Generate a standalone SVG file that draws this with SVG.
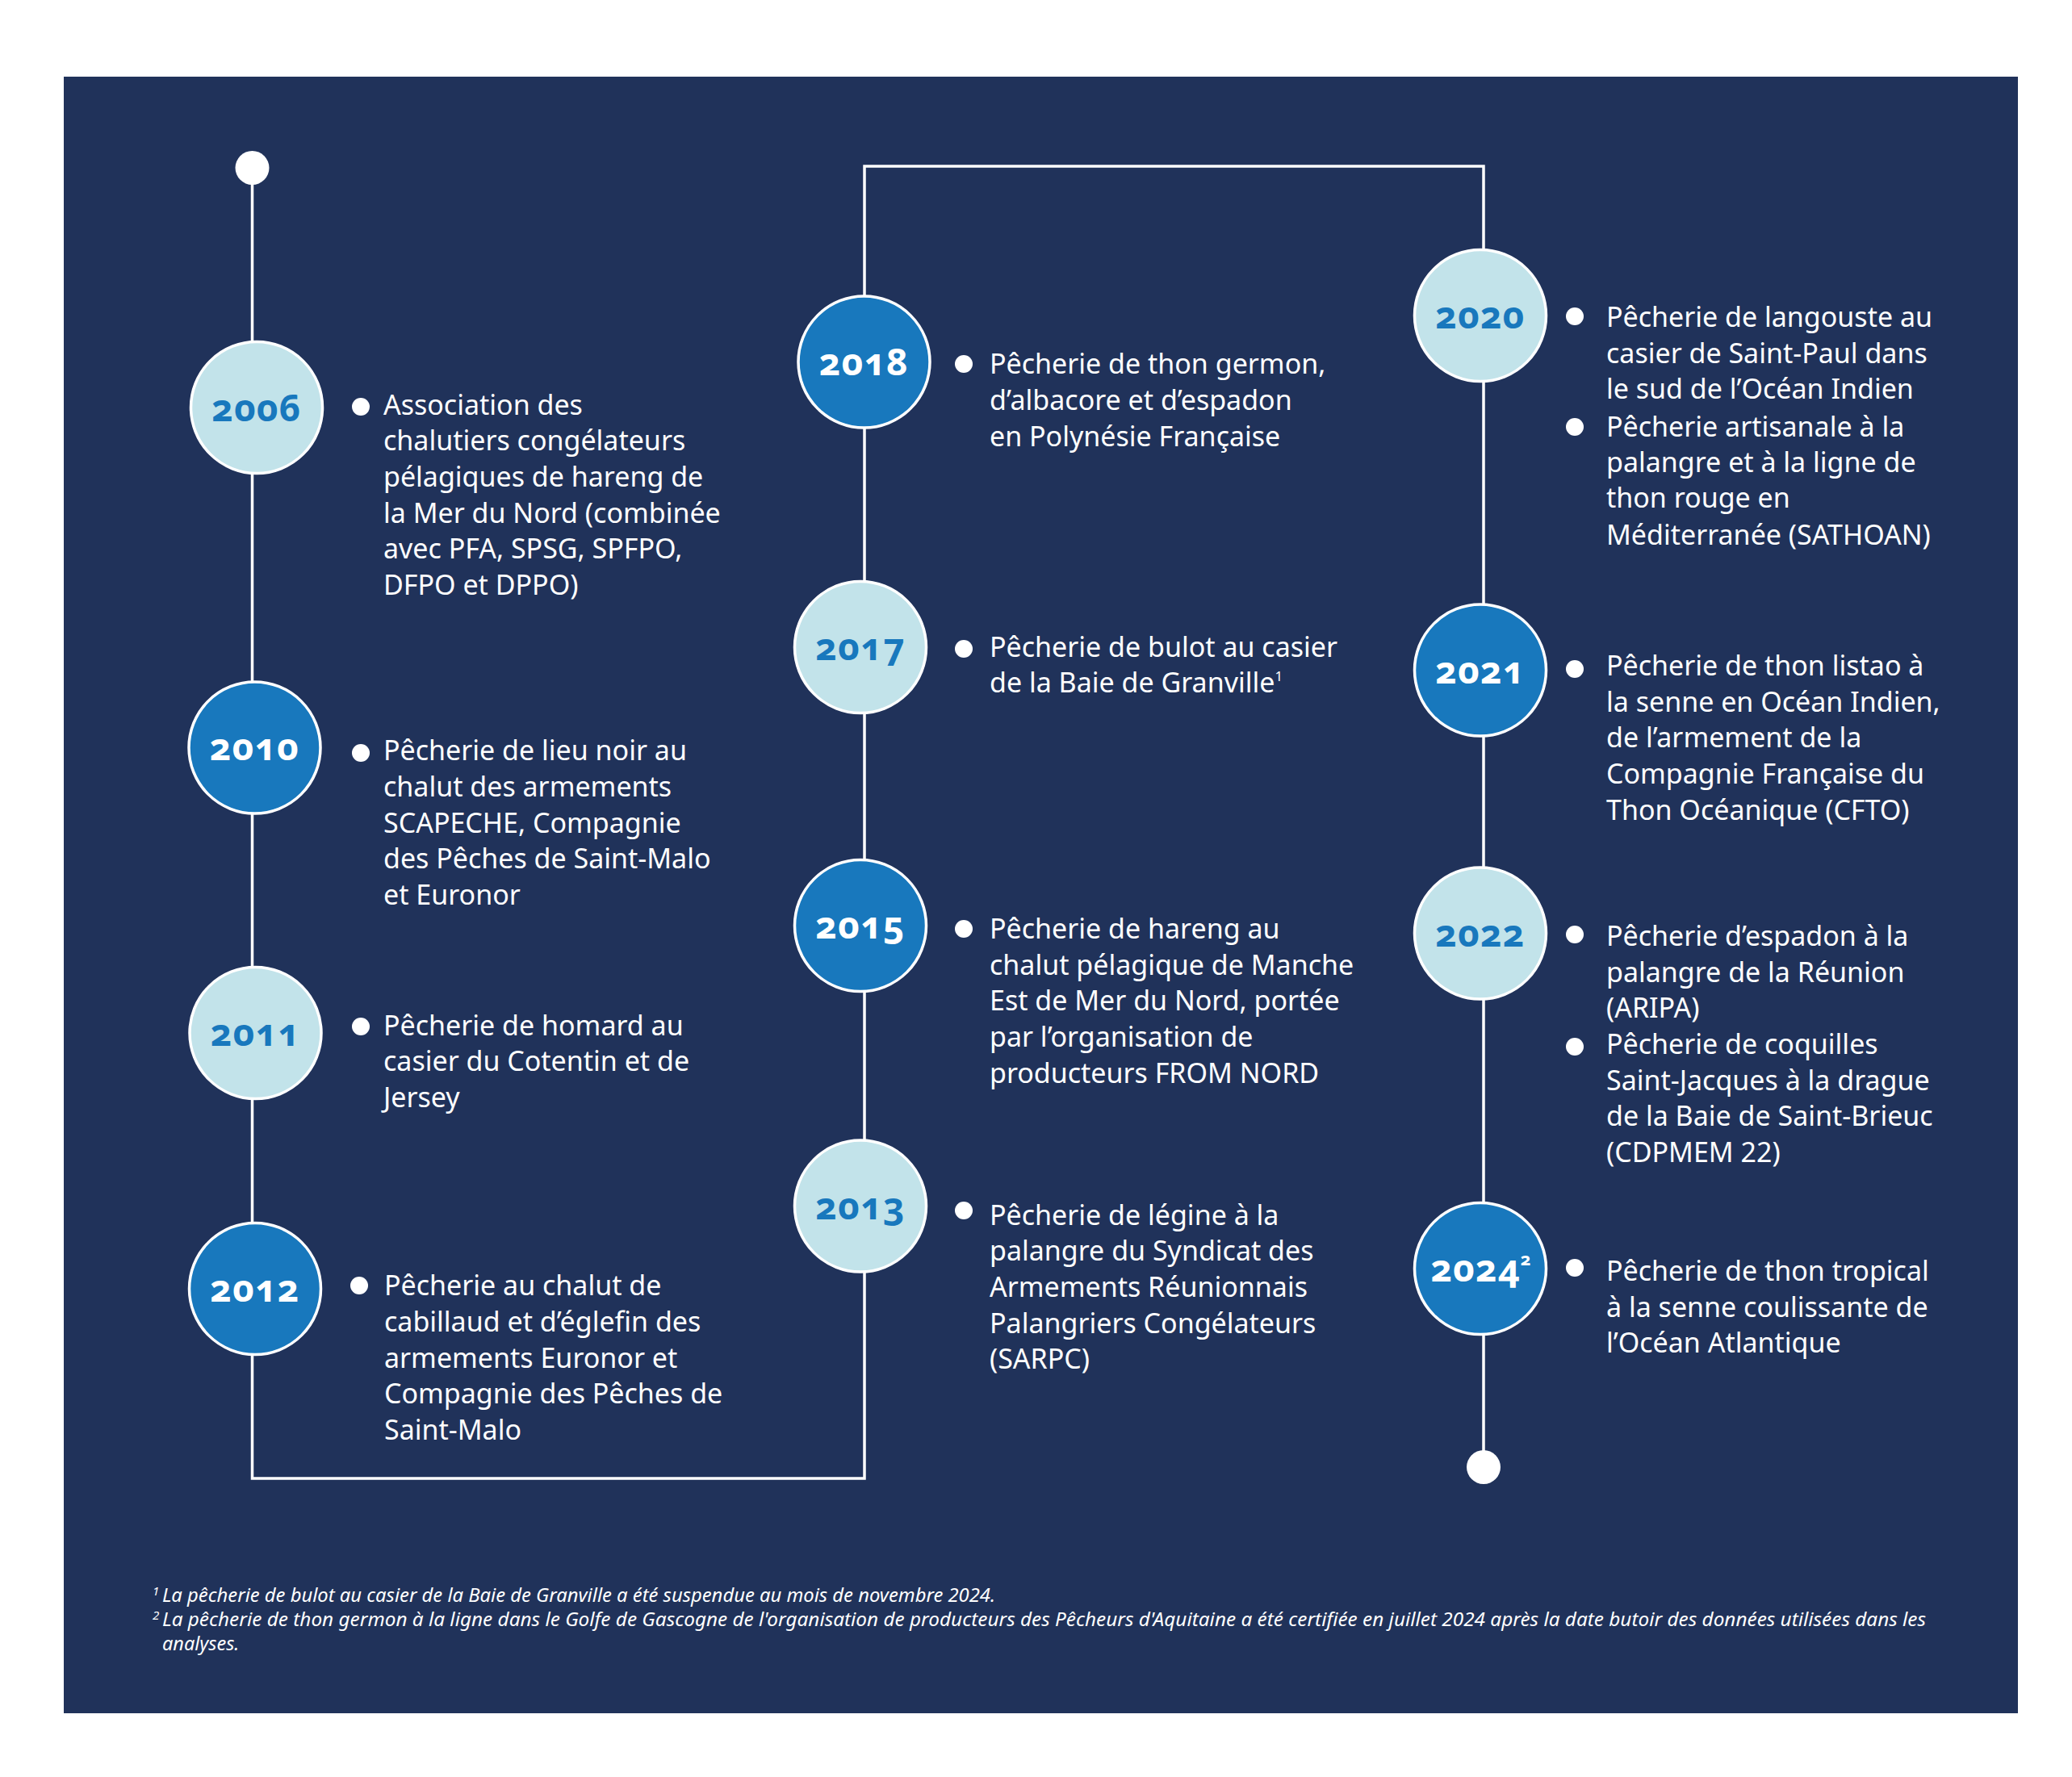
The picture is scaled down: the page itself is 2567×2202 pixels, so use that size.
<svg xmlns="http://www.w3.org/2000/svg" width="2567" height="2202" viewBox="0 0 2567 2202">
<style>
.bg{fill:#20325a}
.dk{fill:#1878bd;stroke:#ffffff;stroke-width:3.5}
.lt{fill:#c2e3ea;stroke:#ffffff;stroke-width:3.5}
.yr{font-family:"Noto Sans","Open Sans",sans-serif;font-weight:700;font-size:46px;text-anchor:middle;font-variant-numeric:oldstyle-nums;letter-spacing:1px}
.yd{fill:#ffffff}
.yl{fill:#1878bd}
.tx{font-family:"Noto Sans","Open Sans",sans-serif;font-size:34px;fill:#ffffff}
.bu{fill:#ffffff}
.ln{fill:none;stroke:#ffffff;stroke-width:3.5}
.fn{font-family:"Noto Sans","Open Sans",sans-serif;font-style:italic;font-size:23.5px;fill:#ffffff}
.sup{font-size:15px}
</style>
<rect class="bg" x="79" y="95" width="2421" height="2028"/>
<g id="connectors">
<path class="ln" d="M312.5,208 V1832 H1071 V206 H1838 V1818"/>
</g>
<g id="start"><circle cx="312.5" cy="208" r="21" fill="#ffffff"/></g>
<g id="end"><circle cx="1838" cy="1818" r="21" fill="#ffffff"/></g>

<g id="y2006">
<circle class="lt" cx="318" cy="505" r="81.5"/>
<text class="yr yl" x="318" y="522">2006</text>
<circle class="bu" cx="447" cy="504" r="11"/>
<text class="tx" x="475"><tspan x="475" y="514">Association des</tspan><tspan x="475" y="558">chalutiers congélateurs</tspan><tspan x="475" y="603">pélagiques de hareng de</tspan><tspan x="475" y="648">la Mer du Nord (combinée</tspan><tspan x="475" y="692">avec PFA, SPSG, SPFPO,</tspan><tspan x="475" y="737">DFPO et DPPO)</tspan></text>
</g>

<g id="y2010">
<circle class="dk" cx="315.5" cy="926.5" r="81.5"/>
<text class="yr yd" x="315.5" y="942">2010</text>
<circle class="bu" cx="447" cy="933" r="11"/>
<text class="tx"><tspan x="475" y="942">Pêcherie de lieu noir au</tspan><tspan x="475" y="987">chalut des armements</tspan><tspan x="475" y="1032">SCAPECHE, Compagnie</tspan><tspan x="475" y="1076">des Pêches de Saint-Malo</tspan><tspan x="475" y="1121">et Euronor</tspan></text>
</g>

<g id="y2011">
<circle class="lt" cx="316.5" cy="1280" r="81.5"/>
<text class="yr yl" x="316.5" y="1296">2011</text>
<circle class="bu" cx="447" cy="1272" r="11"/>
<text class="tx"><tspan x="475" y="1283">Pêcherie de homard au</tspan><tspan x="475" y="1327">casier du Cotentin et de</tspan><tspan x="475" y="1372">Jersey</tspan></text>
</g>

<g id="y2012">
<circle class="dk" cx="316" cy="1597" r="81.5"/>
<text class="yr yd" x="316" y="1613">2012</text>
<circle class="bu" cx="445" cy="1593" r="11"/>
<text class="tx"><tspan x="476" y="1605">Pêcherie au chalut de</tspan><tspan x="476" y="1650">cabillaud et d’églefin des</tspan><tspan x="476" y="1695">armements Euronor et</tspan><tspan x="476" y="1739">Compagnie des Pêches de</tspan><tspan x="476" y="1784">Saint-Malo</tspan></text>
</g>

<g id="y2018">
<circle class="dk" cx="1070.5" cy="448.5" r="81.5"/>
<text class="yr yd" x="1070.5" y="465">2018</text>
<circle class="bu" cx="1194" cy="451" r="11"/>
<text class="tx"><tspan x="1226" y="463">Pêcherie de thon germon,</tspan><tspan x="1226" y="508">d’albacore et d’espadon</tspan><tspan x="1226" y="553">en Polynésie Française</tspan></text>
</g>

<g id="y2017">
<circle class="lt" cx="1066" cy="802" r="81.5"/>
<text class="yr yl" x="1066" y="818">2017</text>
<circle class="bu" cx="1194" cy="804" r="11"/>
<text class="tx"><tspan x="1226" y="814">Pêcherie de bulot au casier</tspan><tspan x="1226" y="858">de la Baie de Granville<tspan font-size="17" dy="-14">1</tspan></tspan></text>
</g>

<g id="y2015">
<circle class="dk" cx="1066" cy="1147" r="81.5"/>
<text class="yr yd" x="1066" y="1163">2015</text>
<circle class="bu" cx="1194" cy="1151" r="11"/>
<text class="tx"><tspan x="1226" y="1163">Pêcherie de hareng au</tspan><tspan x="1226" y="1208">chalut pélagique de Manche</tspan><tspan x="1226" y="1252">Est de Mer du Nord, portée</tspan><tspan x="1226" y="1297">par l’organisation de</tspan><tspan x="1226" y="1342">producteurs FROM NORD</tspan></text>
</g>

<g id="y2013">
<circle class="lt" cx="1066" cy="1494.5" r="81.5"/>
<text class="yr yl" x="1066" y="1511">2013</text>
<circle class="bu" cx="1194" cy="1500" r="11"/>
<text class="tx"><tspan x="1226" y="1518">Pêcherie de légine à la</tspan><tspan x="1226" y="1562">palangre du Syndicat des</tspan><tspan x="1226" y="1607">Armements Réunionnais</tspan><tspan x="1226" y="1652">Palangriers Congélateurs</tspan><tspan x="1226" y="1696">(SARPC)</tspan></text>
</g>

<g id="y2020">
<circle class="lt" cx="1834" cy="391" r="81.5"/>
<text class="yr yl" x="1834" y="407">2020</text>
<circle class="bu" cx="1951" cy="392" r="11"/>
<text class="tx"><tspan x="1990" y="405">Pêcherie de langouste au</tspan><tspan x="1990" y="450">casier de Saint-Paul dans</tspan><tspan x="1990" y="494">le sud de l’Océan Indien</tspan></text>
<circle class="bu" cx="1951" cy="529" r="11"/>
<text class="tx"><tspan x="1990" y="541">Pêcherie artisanale à la</tspan><tspan x="1990" y="585">palangre et à la ligne de</tspan><tspan x="1990" y="629">thon rouge en</tspan><tspan x="1990" y="675">Méditerranée (SATHOAN)</tspan></text>
</g>

<g id="y2021">
<circle class="dk" cx="1834" cy="830.5" r="81.5"/>
<text class="yr yd" x="1834" y="847">2021</text>
<circle class="bu" cx="1951" cy="829" r="11"/>
<text class="tx"><tspan x="1990" y="837">Pêcherie de thon listao à</tspan><tspan x="1990" y="882">la senne en Océan Indien,</tspan><tspan x="1990" y="926">de l’armement de la</tspan><tspan x="1990" y="971">Compagnie Française du</tspan><tspan x="1990" y="1016">Thon Océanique (CFTO)</tspan></text>
</g>

<g id="y2022">
<circle class="lt" cx="1834" cy="1156.5" r="81.5"/>
<text class="yr yl" x="1834" y="1173">2022</text>
<circle class="bu" cx="1951" cy="1158" r="11"/>
<text class="tx"><tspan x="1990" y="1172">Pêcherie d’espadon à la</tspan><tspan x="1990" y="1217">palangre de la Réunion</tspan><tspan x="1990" y="1261">(ARIPA)</tspan></text>
<circle class="bu" cx="1951" cy="1297" r="11"/>
<text class="tx"><tspan x="1990" y="1306">Pêcherie de coquilles</tspan><tspan x="1990" y="1351">Saint-Jacques à la drague</tspan><tspan x="1990" y="1395">de la Baie de Saint-Brieuc</tspan><tspan x="1990" y="1440">(CDPMEM 22)</tspan></text>
</g>

<g id="y2024">
<circle class="dk" cx="1834" cy="1572" r="81.5"/>
<text class="yr yd" x="1835" y="1588">2024<tspan font-size="22" dy="-20">2</tspan></text>
<circle class="bu" cx="1951" cy="1571" r="11"/>
<text class="tx"><tspan x="1990" y="1587">Pêcherie de thon tropical</tspan><tspan x="1990" y="1632">à la senne coulissante de</tspan><tspan x="1990" y="1676">l’Océan Atlantique</tspan></text>
</g>

<g id="footnotes">
<text class="fn" x="189" y="1985"><tspan class="sup" dy="-8">1</tspan></text>
<text class="fn" x="201" y="1985" textLength="1032" lengthAdjust="spacingAndGlyphs">La pêcherie de bulot au casier de la Baie de Granville a été suspendue au mois de novembre 2024.</text>
<text class="fn" x="189" y="2015"><tspan class="sup" dy="-8">2</tspan></text>
<text class="fn" x="201" y="2015" textLength="2185" lengthAdjust="spacingAndGlyphs">La pêcherie de thon germon à la ligne dans le Golfe de Gascogne de l'organisation de producteurs des Pêcheurs d'Aquitaine a été certifiée en juillet 2024 après la date butoir des données utilisées dans les</text>
<text class="fn" x="201" y="2045">analyses.</text>
</g>
</svg>
